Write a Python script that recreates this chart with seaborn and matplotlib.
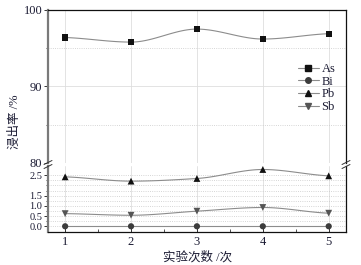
import numpy as np
import pandas as pd
import matplotlib.pyplot as plt
import seaborn as sns
from matplotlib.lines import Line2D
from matplotlib.ticker import FixedLocator

# leaching rate (%) for each trial
trials = [1, 2, 3, 4, 5]
as_rate = [96.4, 95.8, 97.5, 96.2, 96.9]
bi_rate = [0.0, 0.0, 0.0, 0.0, 0.0]
pb_rate = [2.42, 2.21, 2.34, 2.78, 2.47]
sb_rate = [0.62, 0.54, 0.74, 0.92, 0.64]

top_ticks = [80, 90, 100]
bot_ticks = [0.0, 0.5, 1.0, 1.5, 2.5]
bot_labels = ['0.0', '0.5', '1.0', '1.5', '2.5']


def smooth(x, y, n=120):
    # shape-preserving (pchip) curve through the points
    x = np.asarray(x, float)
    y = np.asarray(y, float)
    h = np.diff(x)
    d = np.diff(y) / h
    m = np.zeros_like(y)
    for i in range(1, len(y) - 1):
        if d[i - 1] * d[i] > 0:
            w1 = 2 * h[i] + h[i - 1]
            w2 = h[i] + 2 * h[i - 1]
            m[i] = (w1 + w2) / (w1 / d[i - 1] + w2 / d[i])
    m[0] = d[0] / 2
    m[-1] = d[-1] / 2
    xs = np.linspace(x[0], x[-1], n)
    idx = np.clip(np.searchsorted(x, xs) - 1, 0, len(x) - 2)
    t = (xs - x[idx]) / h[idx]
    h00 = 2 * t ** 3 - 3 * t ** 2 + 1
    h10 = t ** 3 - 2 * t ** 2 + t
    h01 = -2 * t ** 3 + 3 * t ** 2
    h11 = t ** 3 - t ** 2
    ys = h00 * y[idx] + h10 * h[idx] * m[idx] + h01 * y[idx + 1] + h11 * h[idx] * m[idx + 1]
    return pd.DataFrame({'x': xs, 'y': ys})


sns.set_theme(style='white')
plt.rcParams['font.family'] = ['Liberation Serif', 'Noto Sans CJK SC']
txt = '#1c1c34'

fig = plt.figure(figsize=(3.61, 2.65), dpi=100)
ax_top = fig.add_axes([0.133, 0.385, 0.825, 0.5774])
ax_bot = fig.add_axes([0.133, 0.1245, 0.825, 0.249])

series = [
    ('As', as_rate, 's', '#111111', ax_top),
    ('Bi', bi_rate, 'o', '#3c3c3c', ax_bot),
    ('Pb', pb_rate, '^', '#111111', ax_bot),
    ('Sb', sb_rate, 'v', '#555555', ax_bot),
]
line_col = '#8c8c8c'

for name, vals, mk, col, ax in series:
    sm = smooth(trials, vals)
    sns.lineplot(data=sm, x='x', y='y', ax=ax, color=line_col, lw=0.8, zorder=2)
    pts = pd.DataFrame({'trial': trials, 'rate': vals})
    sns.scatterplot(data=pts, x='trial', y='rate', ax=ax, marker=mk, color=col,
                    s=24 if mk in '^v' else 20, edgecolor='none', zorder=3, clip_on=False)

for ax in (ax_top, ax_bot):
    ax.set_xlim(0.74, 5.26)
    ax.set_xticks(trials)
    ax.set_xlabel('')
    ax.set_ylabel('')
    ax.grid(axis='x', color='#dedede', lw=0.6)
    ax.set_axisbelow(True)
    ax.spines['left'].set_color('#7a7a7a')
    ax.spines['left'].set_linewidth(1.6)
    for s in ('top', 'right', 'bottom'):
        ax.spines[s].set_color('#111111')
        ax.spines[s].set_linewidth(0.9)
    ax.tick_params(axis='y', which='major', direction='out', length=3, width=0.7,
                   color='#333333', labelsize=9, labelcolor=txt, pad=1, left=True)
    ax.tick_params(axis='y', which='minor', direction='out', length=1.5, width=0.6,
                   color='#333333', left=True)

# top panel: As
ax_top.set_ylim(80, 100)
ax_top.set_yticks(top_ticks)
ax_top.yaxis.set_minor_locator(FixedLocator([85, 95]))
ax_top.grid(axis='y', which='major', color='#dedede', lw=0.6)
ax_top.grid(axis='y', which='minor', color='#c8c8c8', lw=0.6, ls=':')
ax_top.spines['bottom'].set_visible(False)
ax_top.tick_params(axis='x', bottom=False, labelbottom=False)

# bottom panel: Bi, Pb, Sb
ax_bot.set_ylim(-0.28, 2.95)
ax_bot.set_yticks(bot_ticks)
ax_bot.set_yticklabels(bot_labels)
ax_bot.tick_params(axis='y', which='major', labelsize=7.5)
ax_bot.yaxis.set_minor_locator(FixedLocator([0.25, 0.75, 1.25, 1.75, 2.0, 2.25]))
ax_bot.grid(axis='y', which='both', color='#c8c8c8', lw=0.6, ls=':')
ax_bot.spines['top'].set_visible(False)
ax_bot.xaxis.set_minor_locator(FixedLocator([1.5, 2.5, 3.5, 4.5]))
ax_bot.tick_params(axis='x', which='major', direction='in', length=3, width=0.7,
                   color='#333333', labelsize=9, labelcolor=txt, pad=3, bottom=True)
ax_bot.tick_params(axis='x', which='minor', direction='in', length=2, width=0.6,
                   color='#333333', bottom=True)

# legend
handles = [Line2D([], [], color=line_col, lw=0.8, marker=mk, markersize=4,
                  markerfacecolor=col, markeredgecolor=col, label=name)
           for name, vals, mk, col, ax in series]
leg = ax_top.legend(handles=handles, loc='center right', bbox_to_anchor=(0.965, 0.49),
                    frameon=False, fontsize=9, labelspacing=0.05, handlelength=1.7,
                    handletextpad=0.2, borderpad=0, borderaxespad=0)
for t in leg.get_texts():
    t.set_color(txt)

# axis-break marks
W, H = 361, 265
for bx in (48, 346):
    for dy in (-2, 2):
        cy = 164.5 + dy
        fig.add_artist(Line2D([(bx - 4) / W, (bx + 4) / W],
                              [(H - cy - 2) / H, (H - cy + 2) / H],
                              transform=fig.transFigure, color='#333333', lw=0.7))

fig.text(0.042, 0.54, '浸出率 /%', rotation=90, ha='center', va='center',
         fontsize=9, color=txt)
fig.text(0.546, 0.03, '实验次数 /次', ha='center', va='center', fontsize=9, color=txt)

fig.savefig('out.png', dpi=100)
